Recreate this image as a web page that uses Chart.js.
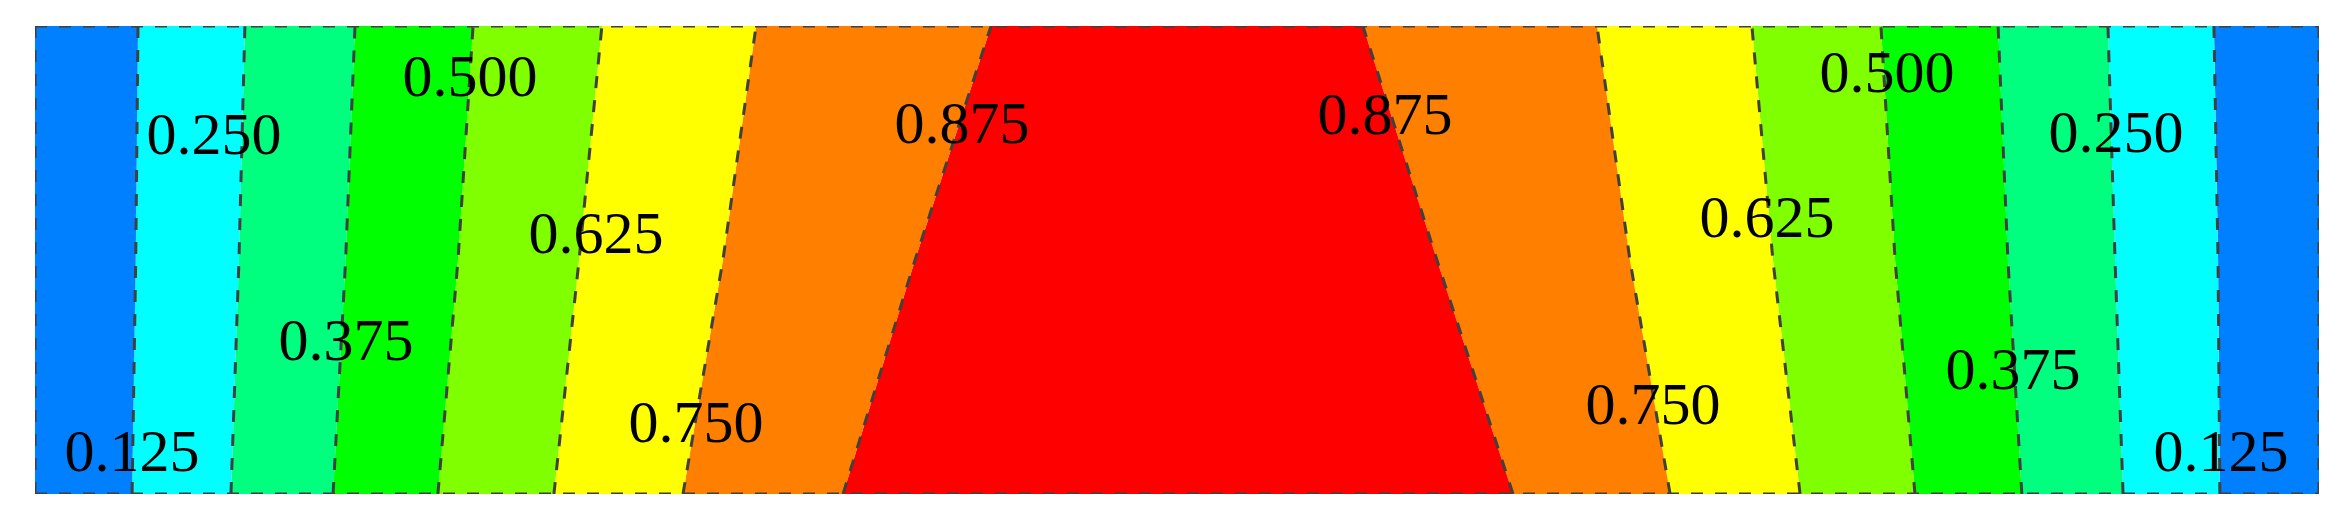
<!DOCTYPE html>
<html>
<head>
<meta charset="utf-8">
<script src="https://cdn.jsdelivr.net/npm/chart.js@4/dist/chart.umd.min.js"></script>
<style>
  html, body { margin: 0; padding: 0; background: #ffffff; }
  #wrap { width: 2351px; height: 519px; }
</style>
</head>
<body>
<div id="wrap"><canvas id="c" width="2351" height="519"></canvas></div>
<script>
// ---- domain (normalized) ----
const xMin = 0, xMax = 1, yMin = 0, yMax = 1;
// sample heights at which each contour line is read (bottom, middle, top)
const sampleY = [0, 0.5, 1];

// contour levels, left to right across the domain
const contourLevels = [0.125, 0.250, 0.375, 0.500, 0.625, 0.750, 0.875,
                       0.875, 0.750, 0.625, 0.500, 0.375, 0.250, 0.125];
// x position of each contour line at sampleY (bottom, middle, top)
const contourX = [
  [0.0425, 0.0441, 0.0451],
  [0.0858, 0.0893, 0.0919],
  [0.1305, 0.1360, 0.1401],
  [0.1764, 0.1852, 0.1918],
  [0.2272, 0.2382, 0.2482],
  [0.2837, 0.3012, 0.3157],
  [0.3538, 0.3853, 0.4186],
  [0.6471, 0.6138, 0.5814],
  [0.7159, 0.6983, 0.6839],
  [0.7728, 0.7609, 0.7517],
  [0.8231, 0.8144, 0.8082],
  [0.8699, 0.8638, 0.8595],
  [0.9142, 0.9107, 0.9076],
  [0.9566, 0.9558, 0.9540]
];
// fill colour of each band (left edge -> line 1, line 1 -> line 2, ..., line 14 -> right edge)
const bandColors = ['#007FFF', '#00FFFF', '#00FF7F', '#00FF00', '#7FFF00', '#FFFF00', '#FF7F00',
                    '#FF0000',
                    '#FF7F00', '#FFFF00', '#7FFF00', '#00FF00', '#00FF7F', '#00FFFF', '#007FFF'];

// inline contour labels (text, x, y in domain units — centre of the label)
const labelText = ['0.125', '0.250', '0.375', '0.500', '0.625', '0.750', '0.875',
                   '0.875', '0.750', '0.625', '0.500', '0.375', '0.250', '0.125'];
const labelX = [0.0425, 0.0784, 0.1362, 0.1905, 0.2456, 0.2894, 0.4059,
                0.5911, 0.7084, 0.7583, 0.8109, 0.8660, 0.9111, 0.9571];
const labelY = [0.0919, 0.7692, 0.3291, 0.8932, 0.5577, 0.1538, 0.7927,
                0.8120, 0.1923, 0.5919, 0.9017, 0.2671, 0.7735, 0.0919];

// ---- build datasets ----
const LINE_COLOR = '#404040';
const DASH = [12, 12];
const LW = 3;

function verticalLine(xs) {
  return sampleY.map((y, i) => ({ x: xs[i], y: y }));
}

const datasets = [];
// left domain edge
datasets.push({
  label: 'left edge',
  data: verticalLine(sampleY.map(() => xMin)),
  borderColor: LINE_COLOR, borderDash: DASH, borderWidth: LW,
  pointRadius: 0, fill: false
});
contourX.forEach((xs, i) => {
  datasets.push({
    label: 'level ' + contourLevels[i],
    data: verticalLine(xs),
    borderColor: LINE_COLOR, borderDash: DASH, borderWidth: LW,
    pointRadius: 0,
    fill: '-1',
    backgroundColor: bandColors[i]
  });
});
// right domain edge
datasets.push({
  label: 'right edge',
  data: verticalLine(sampleY.map(() => xMax)),
  borderColor: LINE_COLOR, borderDash: DASH, borderWidth: LW,
  pointRadius: 0,
  fill: '-1',
  backgroundColor: bandColors[bandColors.length - 1]
});
// top and bottom domain edges
datasets.push({
  label: 'top edge',
  data: [{ x: xMin, y: yMax }, { x: xMax, y: yMax }],
  borderColor: LINE_COLOR, borderDash: DASH, borderWidth: LW,
  pointRadius: 0, fill: false
});
datasets.push({
  label: 'bottom edge',
  data: [{ x: xMin, y: yMin }, { x: xMax, y: yMin }],
  borderColor: LINE_COLOR, borderDash: DASH, borderWidth: LW,
  pointRadius: 0, fill: false
});

const labelPlugin = {
  id: 'contourLabels',
  afterDatasetsDraw(chart) {
    const ctx = chart.ctx;
    const xs = chart.scales.x, ys = chart.scales.y;
    const size = 60;
    ctx.save();
    ctx.font = size + 'px "Liberation Serif", "DejaVu Serif", serif';
    ctx.fillStyle = '#000000';
    ctx.textAlign = 'center';
    ctx.textBaseline = 'alphabetic';
    for (let i = 0; i < labelText.length; i++) {
      const px = xs.getPixelForValue(labelX[i]);
      const py = ys.getPixelForValue(labelY[i]) + size * 0.34;
      ctx.fillText(labelText[i], px, py);
    }
    ctx.restore();
  }
};

new Chart(document.getElementById('c'), {
  type: 'line',
  data: { datasets: datasets },
  options: {
    indexAxis: 'y',
    responsive: false,
    animation: false,
    events: [],
    layout: { padding: { left: 35, right: 32, top: 26, bottom: 25 } },
    elements: { line: { tension: 0 } },
    scales: {
      x: { type: 'linear', min: xMin, max: xMax, display: false },
      y: { type: 'linear', min: yMin, max: yMax, display: false }
    },
    plugins: {
      legend: { display: false },
      tooltip: { enabled: false },
      filler: { drawTime: 'beforeDatasetsDraw', propagate: false }
    }
  },
  plugins: [labelPlugin]
});
</script>
</body>
</html>
